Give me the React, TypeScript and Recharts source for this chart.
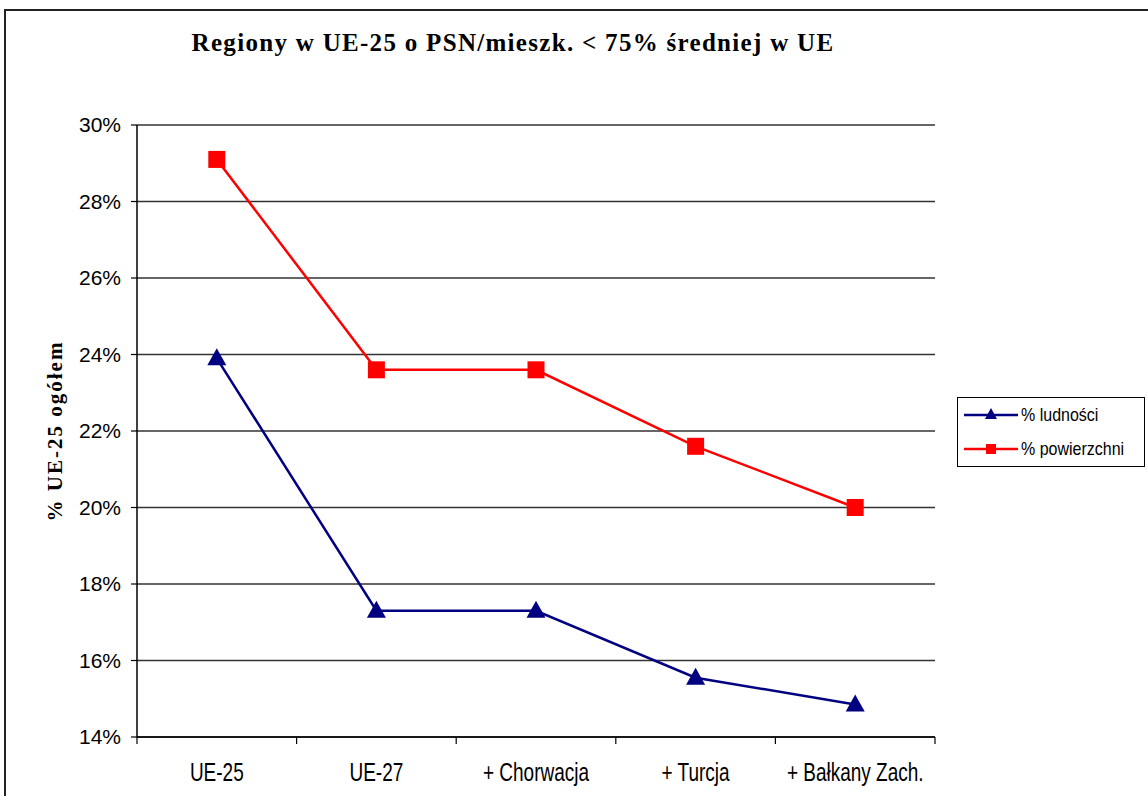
import { LineChart, Line, XAxis, YAxis, CartesianGrid, Legend } from 'recharts'

const categories = ['UE-25', 'UE-27', '+ Chorwacja', '+ Turcja', '+ Bałkany Zach.']
const ludnosci = [23.9, 17.3, 17.3, 15.55, 14.85]
const powierzchni = [29.1, 23.6, 23.6, 21.6, 20.0]
const yTicks = [14, 16, 18, 20, 22, 24, 26, 28, 30]

const seriesNames = ['% ludności', '% powierzchni']
const NAVY = '#000080'
const RED = '#ff0000'

const data = categories.map((c, i) => ({ cat: c, ludnosci: ludnosci[i], powierzchni: powierzchni[i] }))

const sans = '"Liberation Sans", Arial, sans-serif'
const serif = '"Liberation Serif", "Times New Roman", serif'
const X_TICK_MARGIN = 20

function Triangle(props: any) {
  const { cx, cy, index } = props
  if (cx == null || cy == null) return <g key={index} />
  return <path key={index} d={`M${cx},${cy - 10} L${cx + 9.5},${cy + 7} L${cx - 9.5},${cy + 7} Z`} fill={NAVY} />
}

function Square(props: any) {
  const { cx, cy, index } = props
  if (cx == null || cy == null) return <g key={index} />
  return <rect key={index} x={cx - 8.5} y={cy - 8.5} width={17} height={17} fill={RED} />
}

// category label plus tick marks on the band edges (Excel style)
function XTick(props: any) {
  const { x, y, payload, index, visibleTicksCount } = props
  const half = payload?.offset ?? 0
  const axisY = y - X_TICK_MARGIN
  const last = index === (visibleTicksCount ?? categories.length) - 1
  return (
    <g>
      <line x1={x - half} y1={axisY} x2={x - half} y2={axisY + 7} stroke="#000" strokeWidth={1.2} />
      {last && <line x1={x + half} y1={axisY} x2={x + half} y2={axisY + 7} stroke="#000" strokeWidth={1.2} />}
      <text transform={`translate(${x}, ${axisY + 44}) scale(1, 1.38)`} textAnchor="middle" fontFamily={sans} fontSize={19} fill="#000">
        {payload.value}
      </text>
    </g>
  )
}

function LegendBox() {
  const rows = [
    { name: seriesNames[0], color: NAVY, marker: 'tri' },
    { name: seriesNames[1], color: RED, marker: 'sq' },
  ]
  return (
    <div style={{ width: 186, height: 68, border: '1px solid #000', background: '#fff', fontFamily: sans, fontSize: 16, color: '#000' }}>
      {rows.map((r) => (
        <div key={r.name} style={{ display: 'flex', alignItems: 'center', height: 34, paddingLeft: 6 }}>
          <svg width={56} height={20} style={{ display: 'block' }}>
            <line x1={0} y1={10} x2={54} y2={10} stroke={r.color} strokeWidth={2.5} />
            {r.marker === 'tri'
              ? <path d="M27,3 L33,14 L21,14 Z" fill={r.color} />
              : <rect x={22} y={5} width={10} height={10} fill={r.color} />}
          </svg>
          <span style={{ marginLeft: 1, transform: 'scaleY(1.12)', display: 'inline-block' }}>{r.name}</span>
        </div>
      ))}
    </div>
  )
}

export default function App() {
  return (
    <div style={{ position: 'absolute', left: 0, top: 0, width: 1148, height: 796, overflow: 'hidden', background: '#fff' }}>
      <div style={{ position: 'absolute', left: 4, top: 9, width: 1300, height: 900, border: '2px solid #222' }} />
      <div style={{ position: 'absolute', left: 0, top: 29, width: 1026, textAlign: 'center', fontFamily: serif, fontWeight: 'bold', fontSize: 25, letterSpacing: 1.3, color: '#000' }}>
        Regiony w UE-25 o PSN/mieszk. &lt; 75% średniej w UE
      </div>
      <div style={{ position: 'absolute', left: 0, top: 0 }}>
        <LineChart width={1148} height={796} data={data} margin={{ top: 125, right: 213, bottom: 11, left: 57 }}>
          <CartesianGrid horizontal vertical={false} stroke="#333" strokeWidth={1.5} />
          <XAxis
            dataKey="cat"
            scale="band"
            height={48}
            axisLine={{ stroke: '#000', strokeWidth: 1.5 }}
            tickLine={false}
            tickSize={0}
            tickMargin={X_TICK_MARGIN}
            interval={0}
            tick={XTick}
          />
          <YAxis
            width={80}
            domain={[14, 30]}
            ticks={yTicks}
            interval={0}
            tickFormatter={(v: number) => `${v}%`}
            tickSize={6}
            tickMargin={10}
            tick={{ fontSize: 21, fill: '#000', fontFamily: sans }}
            axisLine={{ stroke: '#000', strokeWidth: 1.5 }}
            tickLine={{ stroke: '#000', strokeWidth: 1.2 }}
            label={{
              content: (p: any) => {
                const vb = p.viewBox || {}
                const x = vb.x - 2
                const y = vb.y + vb.height / 2
                return (
                  <text x={x} y={y} transform={`rotate(-90, ${x}, ${y})`} textAnchor="middle" dominantBaseline="central" fontFamily={serif} fontWeight="bold" fontSize={21} letterSpacing={2} fill="#000">
                    % UE-25 ogółem
                  </text>
                )
              },
            }}
          />
          <Legend layout="horizontal" verticalAlign="middle" content={() => <LegendBox />} wrapperStyle={{ left: 957, top: 397, width: 188, height: 70 }} />
          <Line dataKey="ludnosci" name={seriesNames[0]} stroke={NAVY} strokeWidth={2.5} dot={Triangle} activeDot={false} isAnimationActive={false} />
          <Line dataKey="powierzchni" name={seriesNames[1]} stroke={RED} strokeWidth={2.5} dot={Square} activeDot={false} isAnimationActive={false} />
        </LineChart>
      </div>
    </div>
  )
}
